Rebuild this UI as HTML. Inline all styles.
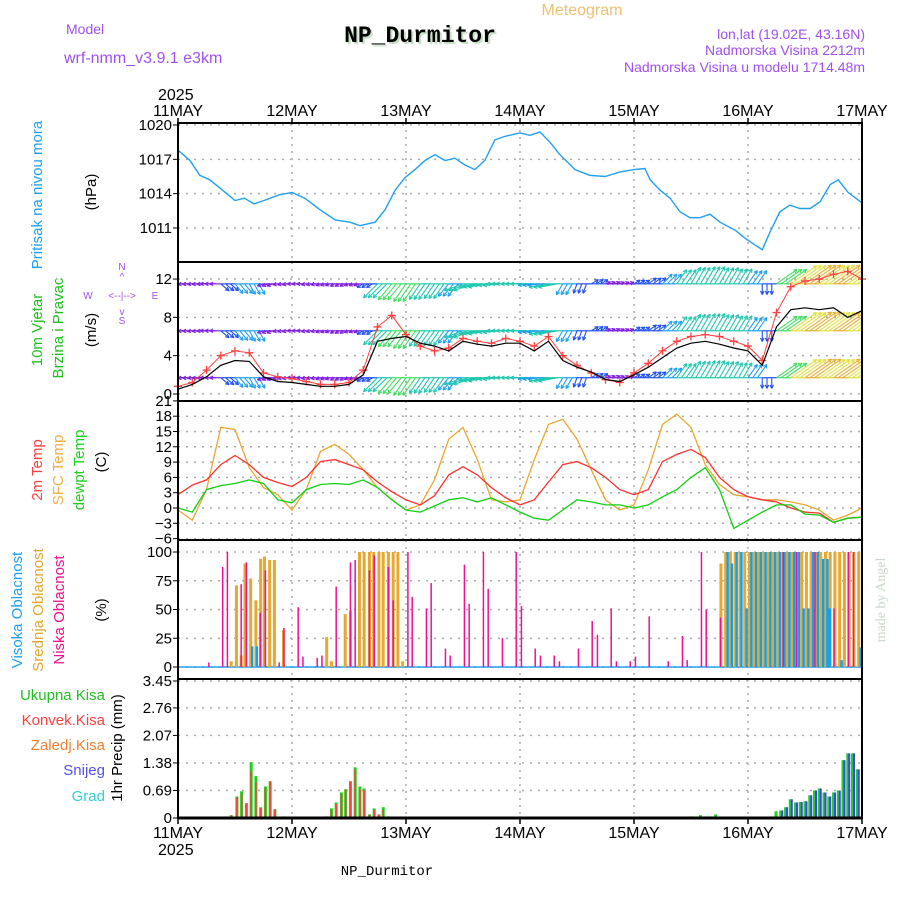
<!DOCTYPE html>
<html><head><meta charset="utf-8">
<style>
html,body{margin:0;padding:0;background:#fff;}
svg{display:block;font-family:"Liberation Sans",sans-serif;}
</style></head>
<body>
<svg id="chart" width="900" height="900" viewBox="0 0 900 900">
  <defs><clipPath id="windClip"><rect x="178" y="262" width="684" height="139"/></clipPath></defs>
  <text x="582" y="15" font-size="16" fill="#f0c070" text-anchor="middle">Meteogram</text>
  <text x="422" y="44" font-size="23" font-weight="bold" fill="#c8e0c8" text-anchor="middle" font-family="Liberation Mono, monospace">NP_Durmitor</text>
  <text x="420" y="42" font-size="23" font-weight="bold" fill="#000" text-anchor="middle" font-family="Liberation Mono, monospace">NP_Durmitor</text>
  <text x="66" y="34" font-size="14" fill="#a050f0">Model</text>
  <text x="64" y="63" font-size="16" fill="#a050f0">wrf-nmm_v3.9.1 e3km</text>
  <text x="865" y="39" font-size="14" fill="#a050f0" text-anchor="end">lon,lat (19.02E, 43.16N)</text>
  <text x="865" y="55" font-size="14" fill="#a050f0" text-anchor="end">Nadmorska Visina 2212m</text>
  <text x="865" y="72" font-size="14" fill="#a050f0" text-anchor="end">Nadmorska Visina u modelu 1714.48m</text>
  <text x="158" y="100" font-size="16" fill="#000">2025</text>
  <text x="158" y="855" font-size="16" fill="#000">2025</text>
  <text x="387" y="875" font-size="14" fill="#000" text-anchor="middle" font-family="Liberation Mono, monospace">NP_Durmitor</text>
  <text transform="translate(885,600) rotate(-90)" font-size="14" fill="#c8d8c8" text-anchor="middle" font-family="Liberation Serif, serif">made by Angel</text>

  <text transform="translate(42,195) rotate(-90)" font-size="15" fill="#20a0f0" text-anchor="middle">Pritisak na nivou mora</text>
  <text transform="translate(96,192) rotate(-90)" font-size="15" fill="#000" text-anchor="middle">(hPa)</text>
  <text transform="translate(42,330) rotate(-90)" font-size="15" fill="#20c020" text-anchor="middle">10m Vjetar</text>
  <text transform="translate(63,328) rotate(-90)" font-size="15" fill="#20c020" text-anchor="middle">Brzina i Pravac</text>
  <text transform="translate(96,330) rotate(-90)" font-size="15" fill="#000" text-anchor="middle">(m/s)</text>
  <g fill="#a050f0" font-size="10" text-anchor="middle">
    <text x="122" y="270">N</text><text x="122" y="280">^</text>
    <text x="88" y="299">W</text><text x="122" y="299">&lt;--|--&gt;</text><text x="155" y="299">E</text>
    <text x="122" y="315">v</text><text x="122" y="324">S</text>
  </g>
  <text transform="translate(42,470) rotate(-90)" font-size="15" fill="#ff4040" text-anchor="middle">2m Temp</text>
  <text transform="translate(63,470) rotate(-90)" font-size="15" fill="#f0b040" text-anchor="middle">SFC Temp</text>
  <text transform="translate(84,470) rotate(-90)" font-size="15" fill="#20d020" text-anchor="middle">dewpt Temp</text>
  <text transform="translate(106,462) rotate(-90)" font-size="15" fill="#000" text-anchor="middle">(C)</text>
  <text transform="translate(22,610) rotate(-90)" font-size="15" fill="#20a0f0" text-anchor="middle">Visoka Oblacnost</text>
  <text transform="translate(43,610) rotate(-90)" font-size="15" fill="#e0a830" text-anchor="middle">Srednja Oblacnost</text>
  <text transform="translate(64,610) rotate(-90)" font-size="15" fill="#f01090" text-anchor="middle">Niska Oblacnost</text>
  <text transform="translate(106,610) rotate(-90)" font-size="15" fill="#000" text-anchor="middle">(%)</text>
  <text x="105" y="700" font-size="15" fill="#20c020" text-anchor="end">Ukupna  Kisa</text>
  <text x="105" y="725" font-size="15" fill="#ff4040" text-anchor="end">Konvek.Kisa</text>
  <text x="105" y="750" font-size="15" fill="#f08030" text-anchor="end">Zaledj.Kisa</text>
  <text x="105" y="775" font-size="15" fill="#5050f0" text-anchor="end">Snijeg</text>
  <text x="105" y="801" font-size="15" fill="#30d0d0" text-anchor="end">Grad</text>
  <text transform="translate(122,748) rotate(-90)" font-size="15" fill="#000" text-anchor="middle">1hr Precip (mm)</text>
  <g id="plot"></g>
</svg>
<script>
// ---- data ----
const dayLabels=["11MAY","12MAY","13MAY","14MAY","15MAY","16MAY","17MAY"];
const pressTicks=[1011,1014,1017,1020];
const windTicks=[0,4,8,12];
const tempTicks=[-6,-3,0,3,6,9,12,15,18,21];
const cloudTicks=[0,25,50,75,100];
const precipTicks=[0,0.69,1.38,2.07,2.76,3.45];

const pHours=[0,2.5,4.6,6.7,8.8,12,14,16,18.1,21.3,24,26.7,29.9,33.1,36.2,38.3,41.5,43.6,45.7,47.8,49.9,52,54.1,56.2,58.3,60.4,62.5,64.6,66.7,68.8,72,74.1,76.2,78.3,80.4,83.6,86.7,89.9,93.1,96,98.3,99.4,101.5,103.6,105.7,107.8,109.9,112,114.1,117.3,119.4,121.5,123,124.6,126.7,128.8,130.9,133.1,135.2,137.3,139,141.1,144];
const pVals=[1017.8,1016.9,1015.6,1015.2,1014.5,1013.4,1013.6,1013.1,1013.4,1013.9,1014.1,1013.6,1012.6,1011.7,1011.5,1011.2,1011.5,1012.6,1014.3,1015.4,1016.1,1016.9,1017.4,1016.9,1017.1,1016.5,1016.1,1016.9,1018.7,1019.0,1019.3,1019.1,1019.4,1018.5,1017.4,1016.1,1015.6,1015.5,1015.9,1016.1,1016.2,1015.2,1014.3,1013.6,1012.4,1011.9,1011.9,1012.2,1011.5,1010.8,1010.1,1009.5,1009.1,1010.6,1012.4,1013.0,1012.7,1012.7,1013.3,1014.8,1015.2,1014.1,1013.2];

const hours3=[0,3,6,9,12,15,18,21,24,27,30,33,36,39,42,45,48,51,54,57,60,63,66,69,72,75,78,81,84,87,90,93,96,99,102,105,108,111,114,117,120,123,126,129,132,135,138,141,144];
const windSpeed=[0.5,1.0,1.8,3.0,3.5,3.4,1.8,1.3,1.2,1.0,0.8,0.8,1.0,2.0,5.5,5.8,6.0,5.3,5.0,4.5,5.5,5.2,5.0,5.3,5.3,4.5,5.5,3.5,2.8,2.3,1.5,1.3,2.0,2.8,3.8,4.8,5.3,5.5,5.2,4.8,4.5,3.0,7.0,8.8,9.0,8.8,9.0,8.0,8.7];
const windGust=[0.8,1.2,2.5,4.0,4.5,4.3,2.2,1.8,1.6,1.3,1.0,1.0,1.2,2.5,7.0,8.2,6.2,5.0,4.5,4.8,5.8,5.5,5.3,5.8,5.5,5.0,6.0,4.0,3.0,2.2,1.5,1.2,2.2,3.2,4.5,5.5,6.0,6.2,6.0,5.5,5.0,3.5,8.5,11.2,11.8,12.0,12.5,12.8,12.0];
const windDirTo=[185,185,180,-40,-50,-60,200,190,180,190,200,210,200,210,225,230,235,235,235,230,200,190,185,180,180,185,190,240,250,30,20,20,30,35,45,55,60,60,60,60,55,270,35,35,35,35,35,35,35];

const temp2m=[2.6,4.5,5.5,8.5,10.3,8.5,6,5,4.2,6,9.1,9.5,8.5,7.5,5.1,3.2,1.6,0.6,2.4,6.5,8.1,6.5,4,2,0.6,1.6,5.1,8.5,9.1,7.9,6,3.6,2.6,3.6,9.1,10.5,11.5,9.9,6,3.6,2.2,1.6,1.2,0,-0.8,-1,-2.8,-2,-1.8];
const tempSfc=[-0.4,-2.4,3.6,15.8,15.4,7.9,4,2.6,-0.4,3.6,11.1,12.5,10.5,7.5,4,1.6,-0.4,0.6,5.5,13.5,15.8,9.5,1.6,1.2,1.6,9.5,16.4,17.4,13.5,7.5,1.6,-0.4,0.6,7.5,16.4,18.4,15.8,8.5,4.6,2.6,2.2,1.6,1.6,1.2,0.6,-0.4,-2.4,-1.4,0];
const tempDew=[0,-0.8,3.6,4.4,4.8,5.5,4.8,1.6,1,3.6,4.6,4.8,4.6,5.5,4,1.6,-0.4,-0.8,0.4,1.6,2,1.2,2,0.6,-0.8,-2,-2.4,-0.4,1.6,1.2,0.6,0.6,0,0.6,2.2,3.6,6,7.9,3.6,-4,-2.4,-0.8,0.6,0.6,-1.2,-1.4,-2.8,-2,-1.8];

const lowCloudH=[6.5,9.4,10.4,13.3,14.4,17.3,18.4,21.3,22.3,25.3,26.3,29.3,30.3,33.3,36.3,37.3,40.3,41.3,44.3,45.3,48.4,49.3,52.3,53.3,56.3,57.3,60.3,61.3,64.3,65.3,68.3,71.2,72.3,75.2,76.3,79.2,80.3,84.3,87.2,88.3,91.2,92.3,95.2,96.3,99.2,103.2,106.2,107.2,110.2,111.2,114.2,127.4,130.2,134.1,138.1,141.1,142.2];
const lowCloudV=[4,87,100,72,91,47,84,4,34,52,9,8,10,70,91,93,84,97,87,58,100,61,51,73,16,10,89,55,100,68,25,100,53,16,10,10,5,16,40,28,51,5,5,9,44,5,27,6,100,50,43,100,100,100,51,100,100];
const midCloudH=[11.2,12.3,13.3,14.1,15.3,16.4,17.4,18.2,19.3,20.3,22.2,31.3,32.3,35.2,36.3,38.2,39.2,40.3,41.2,42.3,43.2,44.3,45.3,46.3,47.3,114.3,115.3,116.3,117.3,118.3,119.3,120.3,121.3,122.3,123.3,124.3,125.3,126.3,127.3,128.3,129.3,130.3,131.3,132.3,133.3,134.3,135.3,136.3,137.3,138.3,139.3,140.3,141.3,142.3,143.3];
const midCloudV=[5,71,10,90,77,58,94,96,93,93,32,26,5,46,49,100,100,100,100,100,100,100,100,100,5,90,100,100,100,100,100,100,100,100,100,100,100,100,100,100,100,100,100,100,100,100,100,100,100,100,100,100,100,100,100];
const highCloudH=[15.3,16.3,115.4,116.3,117.3,118.3,119.4,120.4,121.4,122.4,123.4,124.4,125.4,126.4,127.4,128.4,129.4,130.4,131.4,132.4,133.4,134.4,135.5,136.4,136.9,139.4,143.4];
const highCloudV=[18,18,100,90,100,100,51,100,100,100,100,100,100,100,100,100,100,100,51,51,100,100,94,94,51,6,17];

const precipH=[11.2,12.4,13.4,14.4,15.4,16.4,17.4,18.4,19.4,20.4,22.4,31.2,32.3,33.3,34.4,35.3,36.3,37.3,38.3,39.2,40.3,41.3,42.3,43.2,44.2,108,110,111,112,113.2,124.8,125.9,126.9,127.9,128.9,130,131,132,133,134,135,136,137,138,139,140,141,142,143];
const precipTotal=[0.07,0.54,0.67,0.37,1.40,1.05,0.27,0.79,0.92,0.22,0.04,0.04,0.24,0.39,0.64,0.72,0.92,1.27,0.79,0.74,0.09,0.24,0.09,0.27,0.04,0.04,0.07,0.04,0.04,0.09,0.04,0.17,0.19,0.27,0.47,0.39,0.4,0.42,0.57,0.69,0.74,0.64,0.54,0.64,0.69,1.45,1.62,1.62,1.22];
const precipConv=[0.07,0.51,0.6,0.37,1.17,0.9,0.25,0.75,0.92,0.22,0.04,0.04,0.2,0.35,0.6,0.72,0.92,1.22,0.72,0.7,0.09,0.2,0.09,0.2,0.04,0,0,0,0,0,0,0,0,0,0,0,0,0,0,0,0,0,0,0,0,0,0,0,0];
const snowH=[126.9,127.9,128.9,130,131,132,133,134,135,136,137,138,139,140,141,142,143];
const snowV=[0.19,0.27,0.47,0.39,0.4,0.42,0.57,0.69,0.74,0.64,0.54,0.64,0.69,1.45,1.62,1.62,1.22];

// ---- axes ----
const X0=178,X1=862;
const xH=h=>X0+h*(X1-X0)/144;
const yP=v=>125+(1020-v)*11.44;
const yW=v=>394-v*9.58;
const yT=v=>508-v*5.1;
const yC=v=>667-v*1.15;
const yR=v=>818-v*39.9;
const panels=[[123,262],[262,401],[401,540],[540,679],[679,818]];
const NS="http://www.w3.org/2000/svg";
const plot=document.getElementById('plot');
function mk(tag,attrs,parent){const e=document.createElementNS(NS,tag);for(const k in attrs)e.setAttribute(k,attrs[k]);(parent||plot).appendChild(e);return e;}
function line(x1,y1,x2,y2,st,w,dash){return mk('line',{x1,y1,x2,y2,stroke:st,'stroke-width':w||1,'stroke-dasharray':dash||'none'});}
function txt(x,y,s,opt){const t=mk('text',Object.assign({x,y,'font-size':15,fill:'#000','text-anchor':'end'},opt||{}));t.textContent=s;return t;}

// grid
const grid=mk('g',{});


dayLabels.forEach((d,i)=>{const x=xH(i*24);panels.forEach(p=>{mk('line',{x1:x,y1:p[0],x2:x,y2:p[1],stroke:'#aaa','stroke-width':1.5,'stroke-dasharray':'2,5'},grid);});});
function hgrid(ticks,fy,lab){ticks.forEach(v=>{const y=fy(v);mk('line',{x1:X0,y1:y,x2:X1,y2:y,stroke:'#aaa','stroke-width':1.5,'stroke-dasharray':'2,6'},grid);
 const t=txt(172,y+5,lab?lab(v):String(v));line(X0-5,y,X0,y,'#000',1);});}
hgrid(pressTicks,yP);
hgrid(windTicks,yW);
hgrid(tempTicks,yT,v=>v<0?'\u2212'+(-v):String(v));
hgrid(cloudTicks,yC);
hgrid(precipTicks,v=>v===3.45?681:yR(v),v=>v===0?'0':v.toFixed(2));

// day labels
dayLabels.forEach((d,i)=>{const x=xH(i*24);
 const a=txt(x,116,d,{'text-anchor':'middle','font-size':16});
 
 const b=txt(x,838,d,{'text-anchor':'middle','font-size':16});
 
 line(x,118,x,123,'#000',1.5);line(x,818,x,824,'#000',1.5);
});

function poly(hs,vs,fy,color,w,name){const pts=hs.map((h,i)=>xH(h).toFixed(1)+','+fy(vs[i]).toFixed(1)).join(' ');
 const p=mk('polyline',{points:pts,fill:'none',stroke:color,'stroke-width':w});
 
 return p;}

// pressure
poly(pHours,pVals,yP,'#20a0f0',1.4,'pressure-line');

// wind arrows
function wcol(s){if(s<2)return '#8020e0';if(s<3.2)return '#2050f0';if(s<4.6)return '#20a0f0';if(s<5.6)return '#20c8b0';if(s<7.5)return '#40e060';if(s<8.9)return '#e0e040';return '#e8b030';}
const windG=mk('g',{'clip-path':'url(#windClip)'});


[11.5,6.6,1.7].forEach(base=>{
 hours3.forEach((h,i)=>{const s=windSpeed[i],a=windDirTo[i]*Math.PI/180,L=Math.max(5,s*3.6),c=wcol(s);
  const y=yW(base);
  const slots=(i<hours3.length-1)?[0,1,2]:[0];
  slots.forEach(k=>{
   const x=xH(h+k),tx=x+L*Math.cos(a),ty=y-L*Math.sin(a);
   mk('line',{x1:x,y1:y,x2:tx,y2:ty,stroke:c,'stroke-width':1.1},windG);
   [1,-1].forEach(d=>{const b=a+Math.PI+d*0.45;mk('line',{x1:tx,y1:ty,x2:tx+4*Math.cos(b),y2:ty-4*Math.sin(b),stroke:c,'stroke-width':1.1},windG);});
  });
  if(i<hours3.length-1)mk('line',{x1:xH(h),y1:y,x2:xH(hours3[i+1]),y2:y,stroke:c,'stroke-width':1.2},windG);
 });
});
poly(hours3,windGust,yW,'#ff4040',1,'wind-gust-line');
hours3.forEach((h,i)=>{const x=xH(h),y=yW(windGust[i]);
 const m=mk('path',{d:`M${x-4},${y}H${x+4}M${x},${y-4}V${y+4}`,stroke:'#ff4040','stroke-width':1.3});
 });
poly(hours3,windSpeed,yW,'#000',1.2,'wind-speed-line');

// temperature
poly(hours3,tempSfc,yT,'#e8a830',1.3,'sfc-temp-line');
poly(hours3,temp2m,yT,'#ff3030',1.3,'temp-2m-line');
poly(hours3,tempDew,yT,'#10d010',1.3,'dewpoint-line');

// clouds
line(X0,667,X1,667,'#20a0f0',1.5);
function bars(hs,vs,fy,color,w,off,name){hs.forEach((h,i)=>{const x=xH(h)+off,y=fy(vs[i]),y0=fy(0);
 const r=mk('rect',{x:x-w/2,y:Math.min(y,y0),width:w,height:Math.abs(y0-y),fill:color});
 });}
bars(midCloudH,midCloudV,yC,'#e8a830',3,0,'mid-cloud-bar');
bars(highCloudH,highCloudV,yC,'#10a0f0',2.4,1.5,'high-cloud-bar');
bars(lowCloudH,lowCloudV,yC,'#f01090',1.5,0,'low-cloud-bar');

// precip
bars(precipH,precipTotal,yR,'#20d020',3,0,'total-precip-bar');
bars(precipH,precipConv,yR,'#ff4040',1.6,0,'convective-precip-bar');
bars(snowH,snowV,yR,'#4040f0',2,1.5,'snow-bar');

// frames
panels.forEach((p,i)=>{const r=mk('rect',{x:X0,y:p[0],width:X1-X0,height:p[1]-p[0],fill:'none',stroke:'#000','stroke-width':2});
 });
line(X0,818,X1,818,'#000',3);
</script>
</body></html>
